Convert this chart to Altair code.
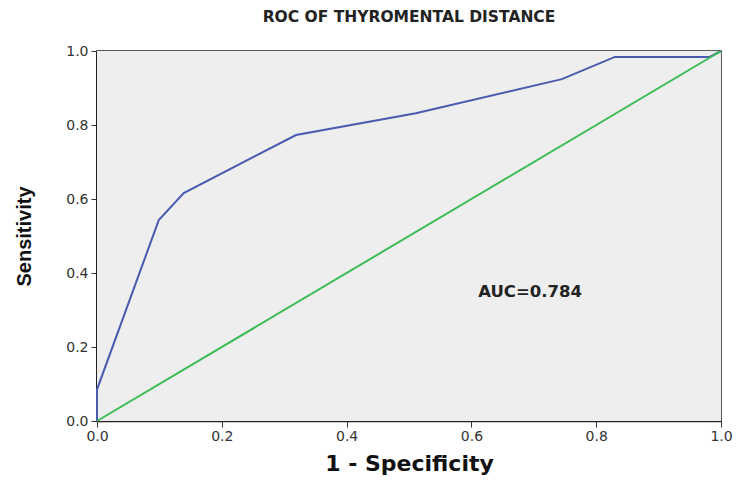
import altair as alt
import pandas as pd

roc_x = [0.0, 0.0, 0.099, 0.139, 0.319, 0.511, 0.745, 0.83, 0.982, 1.0]
roc_y = [0.0, 0.085, 0.543, 0.616, 0.773, 0.832, 0.924, 0.984, 0.984, 1.0]
ref_x = [0.0, 1.0]
ref_y = [0.0, 1.0]
tick_values = [0.0, 0.2, 0.4, 0.6, 0.8, 1.0]
auc_label = ["AUC=0.784"]
auc_x = [0.694]
auc_y = [0.35]

W, H = 624, 370

roc_df = pd.DataFrame({"x": roc_x, "y": roc_y, "o": list(range(len(roc_x)))})
ref_df = pd.DataFrame({"x": ref_x, "y": ref_y})
auc_df = pd.DataFrame({"x": auc_x, "y": auc_y, "t": auc_label})

xscale = alt.Scale(domain=[0, 1], nice=False, zero=False)
yscale = alt.Scale(domain=[0, 1], nice=False, zero=False)

xaxis = alt.Axis(values=tick_values, format=".1f", title="1 - Specificity",
                 grid=False, tickSize=6, tickColor="#333", domainColor="#222", domainWidth=1.5,
                 labelFontSize=14, labelColor="#333", labelPadding=2, labelFlush=False,
                 labelFont="DejaVu Sans",
                 titleFont="DejaVu Sans", titleFontSize=22, titleFontWeight="bold",
                 titlePadding=10, titleColor="#111")
yaxis = alt.Axis(values=tick_values, format=".1f", title="Sensitivity",
                 grid=False, tickSize=6, tickColor="#333", domainColor="#222", domainWidth=3,
                 labelFontSize=14, labelColor="#333", labelPadding=3, labelFlush=False,
                 labelFont="DejaVu Sans",
                 titleFont="Liberation Sans", titleFontSize=20, titleFontWeight="bold",
                 titleColor="#111", titleX=-73, titleY=H / 2, titleAngle=270,
                 titleAlign="center", titleBaseline="middle")

bg = alt.Chart(pd.DataFrame({"a": [0]})).mark_rect(color="#eeeeee").encode(
    x=alt.value(0), x2=alt.value(W), y=alt.value(0), y2=alt.value(H)
)
roc = alt.Chart(roc_df).mark_line(color="#4a5aae", strokeWidth=2).encode(
    x=alt.X("x:Q", scale=xscale, axis=xaxis),
    y=alt.Y("y:Q", scale=yscale, axis=yaxis),
    order="o:Q",
)
ref = alt.Chart(ref_df).mark_line(color="#3dbb55", strokeWidth=2).encode(
    x=alt.X("x:Q", scale=xscale),
    y=alt.Y("y:Q", scale=yscale),
)
txt = alt.Chart(auc_df).mark_text(fontSize=16.5, fontWeight="bold", color="#222",
                                  font="DejaVu Sans").encode(
    x=alt.X("x:Q", scale=xscale),
    y=alt.Y("y:Q", scale=yscale),
    text="t:N",
)

chart = alt.layer(bg, roc, ref, txt).properties(
    width=W, height=H,
    title=alt.TitleParams("ROC OF THYROMENTAL DISTANCE", fontSize=15.5, fontWeight="bold",
                          font="DejaVu Sans", color="#222", offset=19, anchor="middle"),
    autosize=alt.AutoSizeParams(type="none"),
    padding={"left": 97, "top": 51, "right": 21, "bottom": 64},
    background="white",
).configure_view(stroke="#222", strokeWidth=1.5)

chart.save("out.html", embed_options={"renderer": "svg", "actions": False})
